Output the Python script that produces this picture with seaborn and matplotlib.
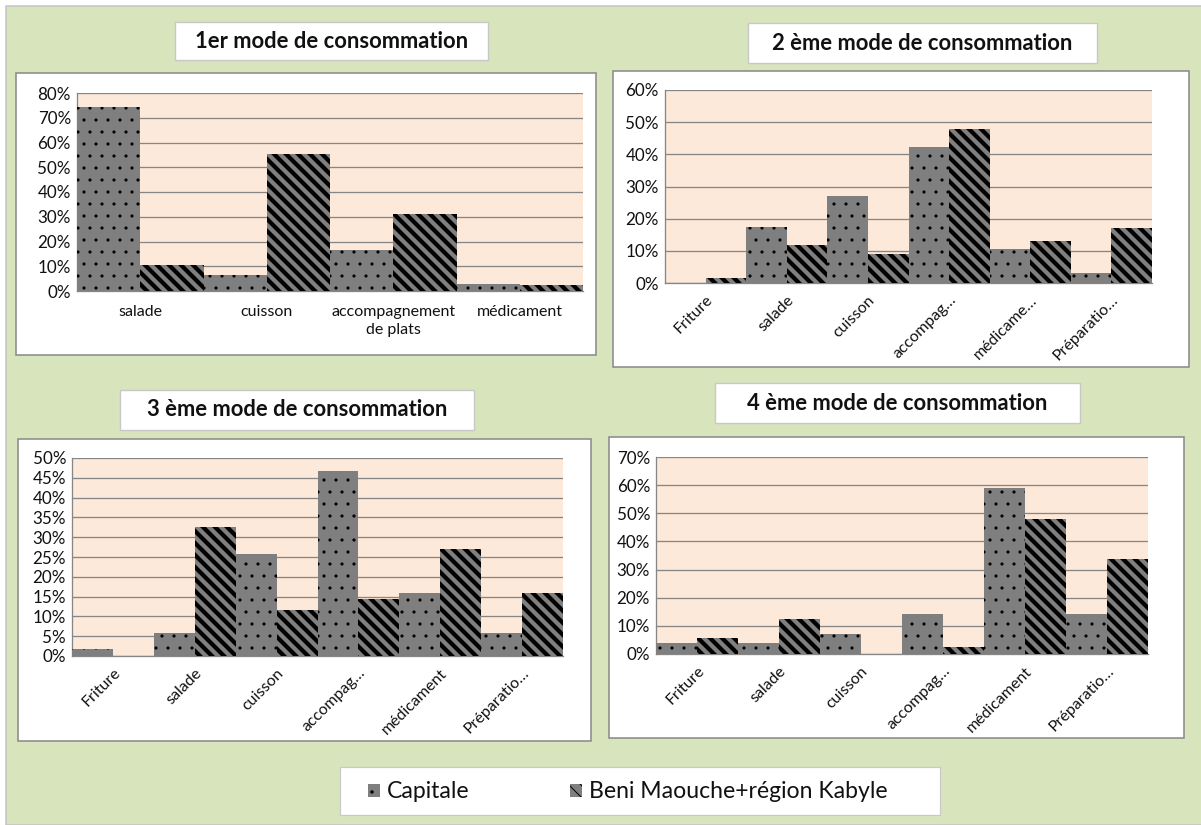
import matplotlib
matplotlib.use("Agg")
import matplotlib.pyplot as plt
from matplotlib.patches import Rectangle, Patch
from matplotlib.ticker import FuncFormatter, FixedLocator, MultipleLocator
import numpy as np
import pandas as pd
import seaborn as sns

# ---- data -------------------------------------------------------------
series = ["Capitale", "Beni Maouche+région Kabyle"]

cats_1 = ["salade", "cuisson", "accompagnement\nde plats", "médicament"]
capitale_1 = [74.5, 6.5, 16.5, 3.0]
kabyle_1 = [10.5, 55.5, 31.0, 2.5]

cats_2 = ["Friture", "salade", "cuisson", "accompag…", "médicame…", "Préparatio…"]
capitale_2 = [0.0, 17.4, 26.9, 42.2, 10.5, 3.0]
kabyle_2 = [1.5, 11.9, 9.1, 47.9, 13.2, 17.1]

cats_3 = ["Friture", "salade", "cuisson", "accompag…", "médicament", "Préparatio…"]
capitale_3 = [1.7, 5.8, 25.7, 46.8, 15.8, 5.8]
kabyle_3 = [0.0, 32.6, 11.6, 14.3, 26.9, 15.8]

cats_4 = ["Friture", "salade", "cuisson", "accompag…", "médicament", "Préparatio…"]
capitale_4 = [3.8, 3.8, 7.1, 14.1, 58.9, 14.1]
kabyle_4 = [5.6, 12.4, 0.0, 2.4, 47.8, 33.9]

titles = ["1er mode de consommation", "2 ème mode de consommation",
          "3 ème mode de consommation", "4 ème mode de consommation"]

# ---- style ------------------------------------------------------------
W, H = 1201, 825
DPI = 72
BG_GREEN = "#D8E4BC"
PLOT_BG = "#FDE9D9"
BAR_GRAY = "#7F7F7F"
GRID = "#868686"
TXT = "#111111"
HATCHES = [".", "\\\\"]
HATCH_LW = [0.7, 4.2]

sns.set_style("white")
plt.rcParams["font.family"] = ["Lato", "DejaVu Sans"]
plt.rcParams["hatch.color"] = "black"


def fx(x):
    return x / W


def fy(y):
    return 1 - y / H


def box(x0, y0, x1, y1):
    return [fx(x0), fy(y1), fx(x1) - fx(x0), fy(y0) - fy(y1)]


fig = plt.figure(figsize=(W / DPI, H / DPI), dpi=DPI)
fig.patch.set_facecolor("white")

# green backdrop with its frame
fig.add_artist(Rectangle((fx(6), 0), 1.2, fy(6), transform=fig.transFigure,
                         facecolor=BG_GREEN, edgecolor="#c3c3c3", lw=1.5, zorder=0))

panels = [
    dict(cats=cats_1, vals=(capitale_1, kabyle_1), ymax=80, step=10,
         frame=(16, 73, 596, 355), axes=(77, 93, 583, 291),
         tbox=(175, 22, 488, 60), rot=0),
    dict(cats=cats_2, vals=(capitale_2, kabyle_2), ymax=60, step=10,
         frame=(613, 71, 1189, 367), axes=(665, 90, 1152, 283),
         tbox=(748, 23, 1097, 63), rot=45),
    dict(cats=cats_3, vals=(capitale_3, kabyle_3), ymax=50, step=5,
         frame=(18, 439, 591, 741), axes=(72, 458, 563, 656),
         tbox=(120, 390, 474, 430), rot=45),
    dict(cats=cats_4, vals=(capitale_4, kabyle_4), ymax=70, step=10,
         frame=(609, 437, 1184, 738), axes=(656, 457, 1148, 654),
         tbox=(715, 383, 1080, 423), rot=45),
]


def style_bar(p, k):
    p.set_hatch(HATCHES[k])
    if hasattr(p, "set_hatch_linewidth"):
        p.set_hatch_linewidth(HATCH_LW[k])
    else:
        p._hatch_linewidth = HATCH_LW[k]
    p.set_facecolor(BAR_GRAY)
    if hasattr(p, "set_hatchcolor"):
        p.set_hatchcolor("black")
        p.set_edgecolor("#a5a5a5")
        p.set_linewidth(0.8)
    else:
        p.set_edgecolor("black")
        p.set_linewidth(0)


for i, pn in enumerate(panels):
    x0, y0, x1, y1 = pn["frame"]
    fig.add_artist(Rectangle((fx(x0), fy(y1)), fx(x1) - fx(x0), fy(y0) - fy(y1),
                             transform=fig.transFigure, facecolor="white",
                             edgecolor="#8c8c8c", lw=1.6, zorder=1))
    tx0, ty0, tx1, ty1 = pn["tbox"]
    fig.add_artist(Rectangle((fx(tx0), fy(ty1)), fx(tx1) - fx(tx0), fy(ty0) - fy(ty1),
                             transform=fig.transFigure, facecolor="white",
                             edgecolor="#c8c8c8", lw=1.4, zorder=1))
    fig.text(fx((tx0 + tx1) / 2), fy((ty0 + ty1) / 2), titles[i], ha="center",
             va="center", fontsize=22, fontweight="bold", color=TXT, zorder=2)

    ax = fig.add_axes(box(*pn["axes"]))
    ax.set_zorder(3)
    cats = pn["cats"]
    df = pd.DataFrame({
        "mode": cats * 2,
        "origine": [series[0]] * len(cats) + [series[1]] * len(cats),
        "part": list(pn["vals"][0]) + list(pn["vals"][1]),
    })
    sns.barplot(data=df, x="mode", y="part", hue="origine", order=cats,
                hue_order=series, palette=[BAR_GRAY, BAR_GRAY], width=1.0,
                saturation=1, legend=False, ax=ax, zorder=3)
    for k, cont in enumerate(ax.containers):
        for p in cont:
            style_bar(p, k)

    n = len(cats)
    ax.set_facecolor(PLOT_BG)
    ax.set_xlim(-0.5, n - 0.5)
    ax.set_ylim(0, pn["ymax"])
    ax.yaxis.set_major_locator(MultipleLocator(pn["step"]))
    ax.yaxis.set_major_formatter(FuncFormatter(lambda v, _: f"{v:.0f}%"))
    ax.grid(axis="y", color=GRID, lw=1.3, zorder=0)
    ax.set_axisbelow(True)
    for s in ("top", "right"):
        ax.spines[s].set_visible(False)
    for s in ("left", "bottom"):
        ax.spines[s].set_color(GRID)
        ax.spines[s].set_linewidth(1.3)
    ax.set_xlabel("")
    ax.set_ylabel("")
    ax.tick_params(axis="y", length=4, width=1.2, color=GRID, pad=2,
                   labelsize=17, labelcolor=TXT)
    ax.xaxis.set_minor_locator(FixedLocator(np.arange(-0.5, n, 1.0)))
    ax.tick_params(axis="x", which="minor", length=5, width=1.2, color=GRID)
    ax.tick_params(axis="x", which="major", length=0, labelsize=16,
                   labelcolor=TXT)
    if pn["rot"]:
        ax.tick_params(axis="x", which="major", pad=10)
        for lab in ax.get_xticklabels():
            lab.set_rotation(45)
            lab.set_ha("right")
            lab.set_rotation_mode("anchor")
    else:
        ax.tick_params(axis="x", which="major", pad=14)
        for lab in ax.get_xticklabels():
            lab.set_linespacing(1.4)

# legend box and entries
fig.add_artist(Rectangle((fx(340), fy(815)), fx(940) - fx(340), fy(767) - fy(815),
                         transform=fig.transFigure, facecolor="white",
                         edgecolor="#c8c8c8", lw=1.2, zorder=1))
handles = []
for k in range(2):
    h = Patch(facecolor=BAR_GRAY, label=series[k])
    style_bar(h, k)
    handles.append(h)
fig.legend(handles=handles, labels=series, loc="center left",
           bbox_to_anchor=(fx(368), fy(792)), ncol=2, frameon=False,
           fontsize=23, handlelength=0.5, handleheight=0.5,
           handletextpad=0.3, columnspacing=4.4, borderpad=0,
           borderaxespad=0, labelcolor=TXT)

fig.savefig("out.png", dpi=DPI, facecolor=fig.get_facecolor())
